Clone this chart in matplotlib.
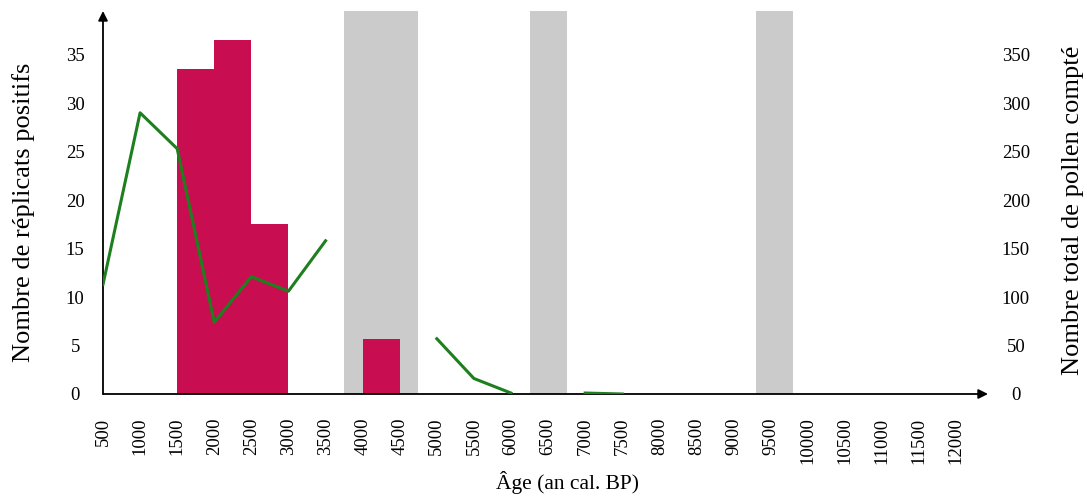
import numpy as np
import matplotlib
matplotlib.use("Agg")
import matplotlib.pyplot as plt

plt.rcParams['font.family'] = ['Liberation Serif', 'DejaVu Serif']

# x axis categories (age, years cal. BP)
ages = list(range(500, 12001, 500))

# positive replicates (left axis), bars span [start, start + 500]
bar_start = [1500, 2000, 2500, 4000]
bar_values = [33.5, 36.5, 17.5, 5.7]

# total pollen counted (right axis), None = no sample
pollen_ages = [500, 1000, 1500, 2000, 2500, 3000, 3500, 4000, 4500,
               5000, 5500, 6000, 6500, 7000, 7500]
pollen_counts = [113, 290, 253, 74, 121, 106, 158, None, None,
                 57, 16, 1, None, 1, 0]

# grey bands (gaps)
gaps = [(3750, 4750), (6250, 6750), (9300, 9800)]

fig = plt.figure(figsize=(10.87, 5.0), dpi=100)
ax = fig.add_axes([103/1087, 106/500, 885/1087, 383/500])
ax2 = ax.twinx()

for g0, g1 in gaps:
    ax.axvspan(g0, g1, color='#cbcbcb', lw=0, zorder=0)

ax.bar(bar_start, bar_values, width=500, align='edge', color='#c80e50', zorder=2)

y = np.array([np.nan if v is None else v for v in pollen_counts], dtype=float)
ax2.plot(pollen_ages, y, color='#1e7f1e', lw=2.2, zorder=3)

ax.set_xlim(500, 12430)
ax.set_ylim(0, 39.5)
ax2.set_ylim(0, 395)

ax.set_xticks(ages)
ax.set_xticklabels([str(a) for a in ages], rotation=90, fontsize=13.5)
ax.tick_params(axis='x', length=0, pad=17)
ax.set_yticks(range(0, 36, 5))
ax.tick_params(axis='y', length=0, pad=20, labelsize=13.5)
for lab in ax.get_yticklabels():
    lab.set_horizontalalignment('center')
ax2.set_yticks(range(0, 351, 50))
ax2.tick_params(axis='y', length=0, pad=20, labelsize=13.5)
for lab in ax2.get_yticklabels():
    lab.set_horizontalalignment('center')

for a in (ax, ax2):
    for s in a.spines.values():
        s.set_visible(False)
ax2.set_zorder(ax.get_zorder() + 1)
ax2.patch.set_visible(False)

# axis arrows
ax.annotate('', xy=(1, 0), xytext=(0, 0), xycoords='axes fraction',
            arrowprops=dict(arrowstyle='-|>', color='black', lw=1.3,
                            mutation_scale=14, shrinkA=0, shrinkB=0))
ax.annotate('', xy=(0, 1), xytext=(0, 0), xycoords='axes fraction',
            arrowprops=dict(arrowstyle='-|>', color='black', lw=1.3,
                            mutation_scale=14, shrinkA=0, shrinkB=0))

fig.text(567/1087, 1 - 483/500, 'Âge (an cal. BP)', ha='center', va='center', fontsize=15.5)
fig.text(24/1087, 1 - 212/500, 'Nombre de réplicats positifs', rotation=90,
         ha='center', va='center', fontsize=19)
fig.text(1073/1087, 1 - 210/500, 'Nombre total de pollen compté', rotation=90,
         ha='center', va='center', fontsize=19)

fig.savefig('out.png', dpi=100)
